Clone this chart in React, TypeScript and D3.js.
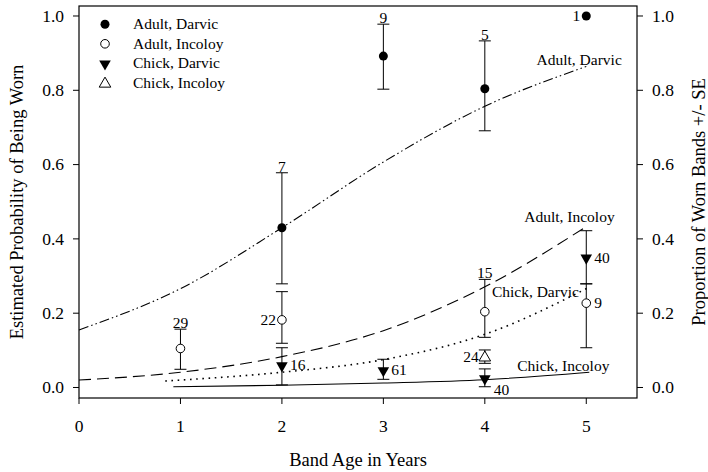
import * as d3 from "d3";

// fitted curves
const fitAdultDarvicX = [0, 1, 2, 3, 4, 5];
const fitAdultDarvicY = [0.155, 0.266, 0.43, 0.607, 0.757, 0.864];
const fitAdultIncoloyX = [0, 1, 2, 3, 4, 5];
const fitAdultIncoloyY = [0.02, 0.041, 0.083, 0.153, 0.271, 0.433];
const fitChickDarvicX = [0.85, 1, 2, 3, 4, 5.03];
const fitChickDarvicY = [0.0175, 0.02, 0.041, 0.075, 0.143, 0.27];
const fitChickIncoloyX = [0.93, 2, 3, 4, 5.03];
const fitChickIncoloyY = [0.002, 0.006, 0.012, 0.021, 0.041];

// observed proportions +/- SE, with sample sizes
const adultDarvicAge = [2, 3, 4, 5];
const adultDarvicMean = [0.43, 0.892, 0.804, 1.0];
const adultDarvicHi = [0.578, 0.978, 0.933, null];
const adultDarvicLo = [0.279, 0.803, 0.691, null];
const adultDarvicN = ["7", "9", "5", "1"];
const adultDarvicSide = ["top", "top", "top", "left"];

const adultIncoloyAge = [1, 2, 4, 5];
const adultIncoloyMean = [0.105, 0.182, 0.204, 0.227];
const adultIncoloyHi = [0.157, 0.258, 0.291, 0.279];
const adultIncoloyLo = [0.049, 0.119, 0.135, 0.107];
const adultIncoloyN = ["29", "22", "15", "9"];
const adultIncoloySide = ["top", "left", "top", "right"];

const chickDarvicAge = [2, 3, 4, 5];
const chickDarvicMean = [0.06, 0.047, 0.025, 0.35];
const chickDarvicHi = [0.107, 0.076, 0.05, 0.422];
const chickDarvicLo = [0.007, 0.022, 0.002, 0.279];
const chickDarvicN = ["16", "61", "40", "40"];
const chickDarvicSide = ["right", "right", "belowRight", "right"];

const chickIncoloyAge = [4];
const chickIncoloyMean = [0.083];
const chickIncoloyHi = [0.101];
const chickIncoloyLo = [0.065];
const chickIncoloyN = ["24"];
const chickIncoloySide = ["left"];

const xTicks = [0, 1, 2, 3, 4, 5];
const yTicks = [0, 0.2, 0.4, 0.6, 0.8, 1.0];
const legendLabels = ["Adult, Darvic", "Adult, Incoloy", "Chick, Darvic", "Chick, Incoloy"];

const W = 708;
const H = 472;
const margin = { top: 6, right: 71, bottom: 74, left: 79 };
const serif = { fontFamily: '"Liberation Serif", Times, monospace' };

const x = d3.scaleLinear().domain([0, 5.5]).range([margin.left, W - margin.right]);
const y = d3.scaleLinear().domain([-0.0283, 1.0269]).range([H - margin.bottom, margin.top]);

const line = d3
  .line<[number, number]>()
  .x(d => x(d[0]))
  .y(d => y(d[1]))
  .curve(d3.curveMonotoneX);

const triDown = d3.symbol().type(d3.symbolTriangle).size(58);

function Marker({ kind, cx, cy }: { kind: string; cx: number; cy: number }) {
  if (kind === "filledCircle") return <circle cx={cx} cy={cy} r={4.5} fill="#000" />;
  if (kind === "openCircle")
    return <circle cx={cx} cy={cy} r={4.3} fill="#fff" stroke="#000" strokeWidth={1} />;
  if (kind === "downTri")
    return <path d={triDown() as string} transform={`translate(${cx},${cy + 0.5}) rotate(180)`} fill="#000" />;
  return (
    <path d={triDown() as string} transform={`translate(${cx},${cy + 1})`} fill="#fff" stroke="#000" strokeWidth={1} />
  );
}

function Series(props: {
  age: number[];
  mean: number[];
  hi: (number | null)[];
  lo: (number | null)[];
  n: string[];
  side: string[];
  kind: string;
}) {
  const { age, mean, hi, lo, n, side, kind } = props;
  return (
    <g>
      {age.map((a, i) => {
        const cx = x(a);
        const cy = y(mean[i]);
        const h = hi[i];
        const l = lo[i];
        let label = null;
        const s = side[i];
        if (s === "top") {
          label = (
            <text x={cx} y={y(h ?? mean[i]) - 1} textAnchor="middle" style={serif}>
              {n[i]}
            </text>
          );
        } else if (s === "left") {
          label = (
            <text x={cx - 6} y={cy} dy="0.33em" textAnchor="end" style={serif}>
              {n[i]}
            </text>
          );
        } else if (s === "right") {
          label = (
            <text x={cx + 8} y={cy} dy="0.33em" style={serif}>
              {n[i]}
            </text>
          );
        } else {
          label = (
            <text x={cx + 9} y={cy + 12} dy="0.33em" style={serif}>
              {n[i]}
            </text>
          );
        }
        return (
          <g key={i}>
            {h !== null && l !== null && (
              <g stroke="#000" strokeWidth={1}>
                <line x1={cx} x2={cx} y1={y(h)} y2={y(l)} />
                <line x1={cx - 6} x2={cx + 6} y1={y(h)} y2={y(h)} />
                <line x1={cx - 6} x2={cx + 6} y1={y(l)} y2={y(l)} />
              </g>
            )}
            <Marker kind={kind} cx={cx} cy={cy} />
            {label}
          </g>
        );
      })}
    </g>
  );
}

const zip = (xs: number[], ys: number[]) => xs.map((v, i) => [v, ys[i]] as [number, number]);

export default function App() {
  const x0 = margin.left;
  const x1 = W - margin.right;
  const y0 = H - margin.bottom;
  const y1 = margin.top;
  const legendKinds = ["filledCircle", "openCircle", "downTri", "upTri"];
  return (
    <svg width={W} height={H} style={{ position: "absolute", left: 0, top: 0, background: "#fff" }}>
      <rect x={0} y={0} width={W} height={H} fill="#fff" />
      {/* fitted curves */}
      <g fill="none" stroke="#000" strokeWidth={1.1}>
        <path d={line(zip(fitAdultDarvicX, fitAdultDarvicY)) as string} strokeDasharray="10 3 1.5 3 1.5 3" />
        <path d={line(zip(fitAdultIncoloyX, fitAdultIncoloyY)) as string} strokeDasharray="12 6" />
        <path d={line(zip(fitChickDarvicX, fitChickDarvicY)) as string} strokeDasharray="1.6 4.6" strokeWidth={1.6} />
        <path d={line(zip(fitChickIncoloyX, fitChickIncoloyY)) as string} />
      </g>

      {/* curve labels */}
      <g fontSize={15.5} fill="#000">
        <text x={x(5.35)} y={y(0.868)} textAnchor="end" style={serif}>Adult, Darvic</text>
        <text x={x(5.28)} y={y(0.445)} textAnchor="end" style={serif}>Adult, Incoloy</text>
        <text x={x(4.07)} y={y(0.244)} style={serif}>Chick, Darvic</text>
        <text x={x(4.32)} y={y(0.045)} style={serif}>Chick, Incoloy</text>
      </g>

      {/* observed points */}
      <g fontSize={15.5} fill="#000">
        <Series age={adultDarvicAge} mean={adultDarvicMean} hi={adultDarvicHi} lo={adultDarvicLo} n={adultDarvicN} side={adultDarvicSide} kind="filledCircle" />
        <Series age={adultIncoloyAge} mean={adultIncoloyMean} hi={adultIncoloyHi} lo={adultIncoloyLo} n={adultIncoloyN} side={adultIncoloySide} kind="openCircle" />
        <Series age={chickDarvicAge} mean={chickDarvicMean} hi={chickDarvicHi} lo={chickDarvicLo} n={chickDarvicN} side={chickDarvicSide} kind="downTri" />
        <Series age={chickIncoloyAge} mean={chickIncoloyMean} hi={chickIncoloyHi} lo={chickIncoloyLo} n={chickIncoloyN} side={chickIncoloySide} kind="upTri" />
      </g>

      {/* frame */}
      <rect x={x0} y={y1} width={x1 - x0} height={y0 - y1} fill="none" stroke="#000" strokeWidth={1.2} />

      {/* x axis */}
      <g fontSize={17.5} textAnchor="middle">
        {xTicks.map(t => (
          <g key={t}>
            <line x1={x(t)} x2={x(t)} y1={y0} y2={y0 + 6} stroke="#000" />
            <text x={x(t)} y={y0 + 34} style={serif}>{t}</text>
          </g>
        ))}
      </g>

      {/* left and right y axes */}
      <g fontSize={17.5}>
        {yTicks.map(t => (
          <g key={t}>
            <line x1={x0 - 6} x2={x0} y1={y(t)} y2={y(t)} stroke="#000" />
            <text x={x0 - 15} y={y(t)} dy="0.33em" textAnchor="end" style={serif}>{t.toFixed(1)}</text>
            <line x1={x1} x2={x1 + 6} y1={y(t)} y2={y(t)} stroke="#000" />
            <text x={x1 + 15} y={y(t)} dy="0.33em" textAnchor="start" style={serif}>{t.toFixed(1)}</text>
          </g>
        ))}
      </g>

      {/* axis titles */}
      <g fontSize={18.5} textAnchor="middle">
        <text x={(x0 + x1) / 2} y={466} style={serif}>Band Age in Years</text>
        <text transform={`translate(23,${(y0 + y1) / 2}) rotate(-90)`} style={serif}>Estimated Probability of Being Worn</text>
        <text transform={`translate(705,${(y0 + y1) / 2}) rotate(-90)`} style={serif}>Proportion of Worn Bands +/- SE</text>
      </g>

      {/* legend */}
      <g fontSize={15.5}>
        {legendLabels.map((lab, i) => {
          const ly = 24.3 + i * 19.5;
          return (
            <g key={lab}>
              <Marker kind={legendKinds[i]} cx={105} cy={ly} />
              <text x={133} y={ly} dy="0.33em" style={serif}>{lab}</text>
            </g>
          );
        })}
      </g>
    </svg>
  );
}
